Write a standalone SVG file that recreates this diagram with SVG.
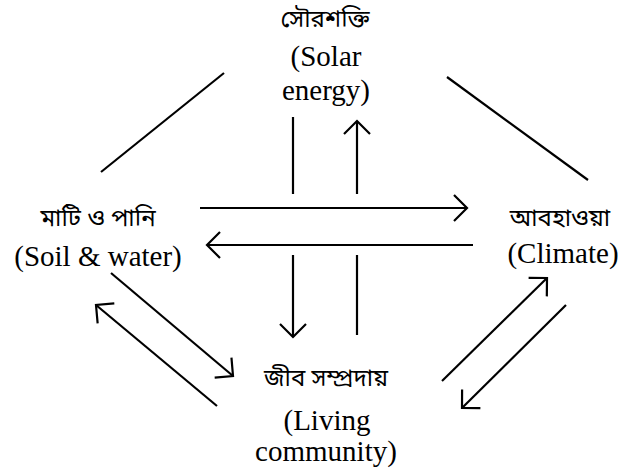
<svg xmlns="http://www.w3.org/2000/svg" width="618" height="474" viewBox="0 0 618 474">
<defs>
<style>
.t{font-family:"Liberation Serif","Times New Roman",serif;font-size:29px;fill:#000;text-anchor:middle}
.b{font-family:"Noto Sans Bengali","Noto Serif Bengali",sans-serif;font-size:24px;fill:#000;text-anchor:middle}
.c line{stroke:#000;stroke-width:2.2;fill:none}
.a{marker-end:url(#ah)}
</style>
<marker id="ah" markerUnits="userSpaceOnUse" viewBox="-16 -16 20 32" refX="0" refY="0" markerWidth="20" markerHeight="32" orient="auto" overflow="visible">
<path d="M-13,-13 L0,0 L-13,13" fill="none" stroke="#000" stroke-width="2.2"/>
</marker>
</defs>
<rect width="618" height="474" fill="#fff"/>
<g id="solar">
<text class="b" x="325" y="27">সৌরশক্তি</text>
<text class="t" x="326" y="66">(Solar</text>
<text class="t" x="326" y="100">energy)</text>
</g>
<g id="soil">
<text class="b" x="98" y="226">মাটি ও পানি</text>
<text class="t" x="98" y="266">(Soil &amp; water)</text>
</g>
<g id="climate">
<text class="b" x="560" y="226">আবহাওয়া</text>
<text class="t" x="563" y="263">(Climate)</text>
</g>
<g id="living">
<text class="b" x="326" y="386">জীব সম্প্রদায়</text>
<text class="t" x="327" y="430">(Living</text>
<text class="t" x="326" y="461">community)</text>
</g>
<g id="connectors" class="c">
<line x1="101" y1="172" x2="224" y2="73"/>
<line x1="447" y1="77" x2="588" y2="180"/>
<line x1="293" y1="117" x2="293" y2="194"/>
<line class="a" x1="357" y1="194" x2="357" y2="121"/>
<line class="a" x1="200" y1="208" x2="467" y2="208"/>
<line class="a" x1="473" y1="245" x2="207" y2="245"/>
<line class="a" x1="293" y1="255" x2="293" y2="337"/>
<line x1="357" y1="255" x2="357" y2="335"/>
<line class="a" x1="111" y1="273" x2="233" y2="376"/>
<line class="a" x1="217" y1="406" x2="96" y2="305"/>
<line class="a" x1="442" y1="381" x2="547" y2="278"/>
<line class="a" x1="566" y1="305" x2="462" y2="408"/>
</g>
</svg>
